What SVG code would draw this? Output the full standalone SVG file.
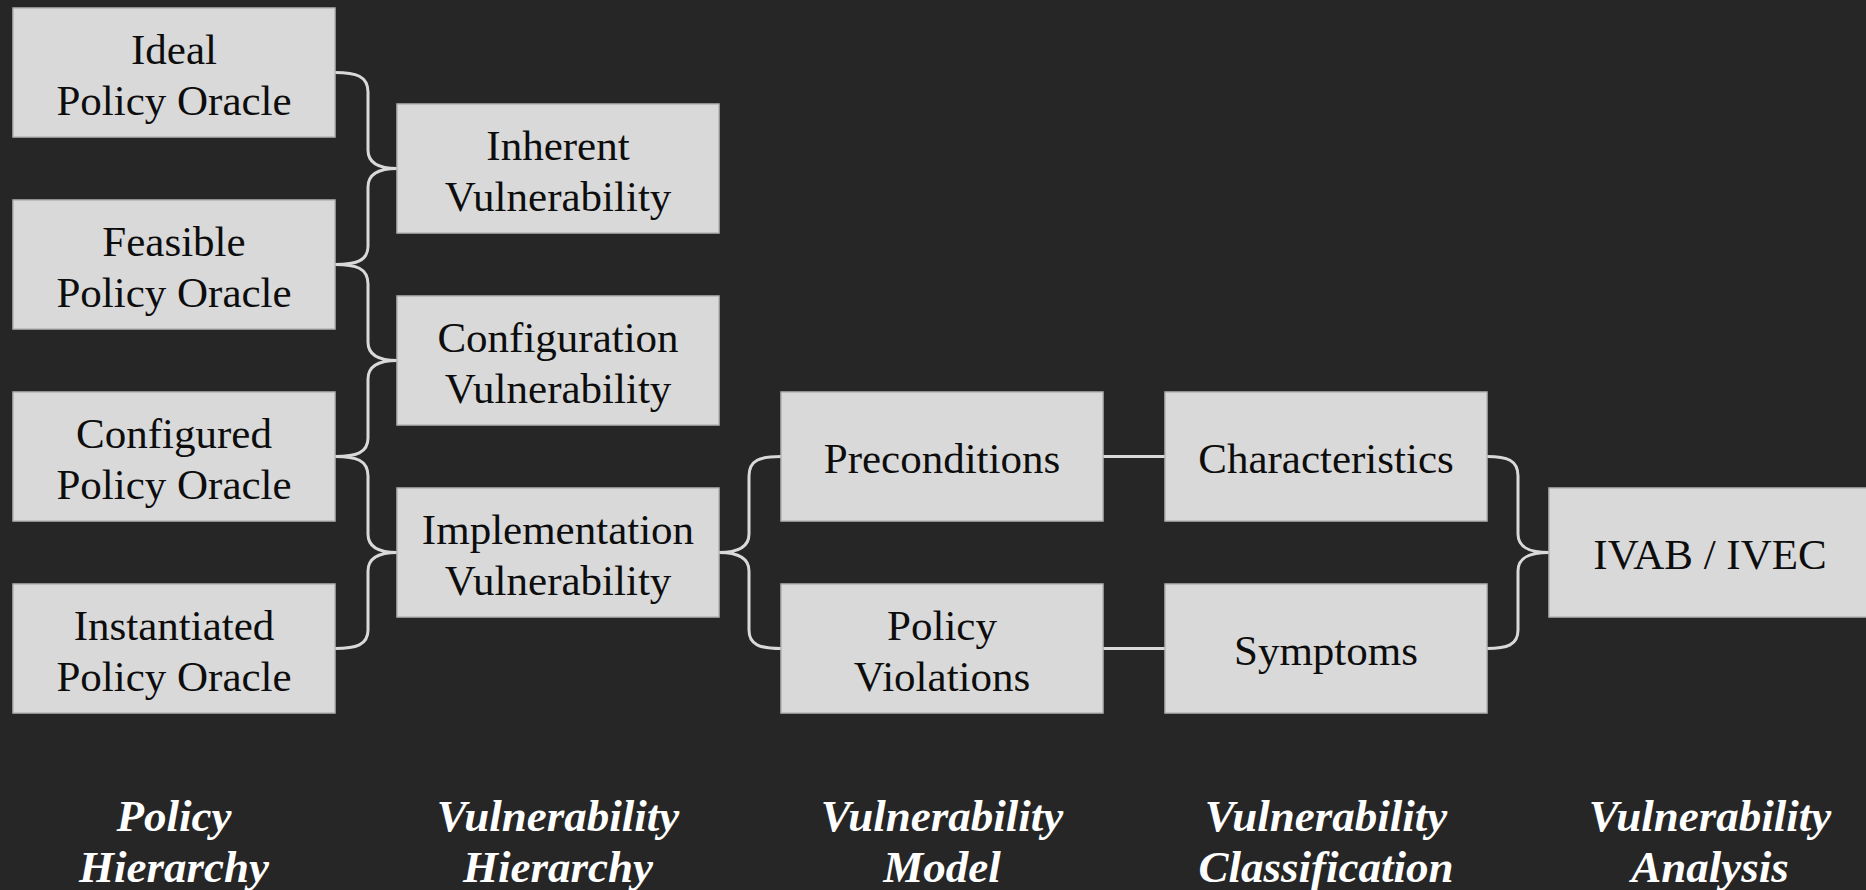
<svg xmlns="http://www.w3.org/2000/svg" width="1866" height="890" viewBox="0 0 1866 890">
<style>
.box{fill:#d9d9d9;stroke:#b4b4b4;stroke-width:1.5}
.t{font-family:"Liberation Serif","Times New Roman",serif;font-size:43px;fill:#0d0d0d;text-anchor:middle}
.lbl{font-family:"Liberation Serif","Times New Roman",serif;font-size:45px;font-weight:bold;font-style:italic;fill:#ffffff;text-anchor:middle}
.c{fill:none;stroke:#d9d9d9;stroke-width:3}
</style>
<rect width="1866" height="890" fill="#262626"/>
<g id="connectors">
<path class="c" d="M335,72.5 C356,72.5 368,76 368,92 L368,150 C368,164 380,168.5 397,168.5 C380,168.5 368,173 368,187 L368,246 C368,261 356,264.5 335,264.5"/>
<path class="c" d="M335,264.5 C356,264.5 368,268 368,284 L368,342 C368,356 380,360.5 397,360.5 C380,360.5 368,365 368,379 L368,438 C368,453 356,456.5 335,456.5"/>
<path class="c" d="M335,456.5 C356,456.5 368,460 368,476 L368,534 C368,548 380,552.5 397,552.5 C380,552.5 368,557 368,571 L368,630 C368,645 356,648.5 335,648.5"/>
<path class="c" d="M781,456.5 C760,456.5 749,460 749,476 L749,534 C749,548 737,552.5 719,552.5 C737,552.5 749,557 749,571 L749,630 C749,645 760,648.5 781,648.5"/>
<path class="c" d="M1103,456.5 L1165,456.5"/>
<path class="c" d="M1103,648.5 L1165,648.5"/>
<path class="c" d="M1487,456.5 C1507,456.5 1518,460 1518,476 L1518,534 C1518,548 1530,552.5 1549,552.5 C1530,552.5 1518,557 1518,571 L1518,630 C1518,645 1507,648.5 1487,648.5"/>
</g>
<g id="ideal"><rect class="box" x="13" y="8" width="322" height="129"/><text class="t" x="174" y="64">Ideal</text><text class="t" x="174" y="115">Policy Oracle</text></g>
<g id="feasible"><rect class="box" x="13" y="200" width="322" height="129"/><text class="t" x="174" y="256">Feasible</text><text class="t" x="174" y="307">Policy Oracle</text></g>
<g id="configured"><rect class="box" x="13" y="392" width="322" height="129"/><text class="t" x="174" y="448">Configured</text><text class="t" x="174" y="499">Policy Oracle</text></g>
<g id="instantiated"><rect class="box" x="13" y="584" width="322" height="129"/><text class="t" x="174" y="640">Instantiated</text><text class="t" x="174" y="691">Policy Oracle</text></g>
<g id="inherent"><rect class="box" x="397" y="104" width="322" height="129"/><text class="t" x="558" y="160">Inherent</text><text class="t" x="558" y="211">Vulnerability</text></g>
<g id="configuration"><rect class="box" x="397" y="296" width="322" height="129"/><text class="t" x="558" y="352">Configuration</text><text class="t" x="558" y="403">Vulnerability</text></g>
<g id="implementation"><rect class="box" x="397" y="488" width="322" height="129"/><text class="t" x="558" y="544">Implementation</text><text class="t" x="558" y="595">Vulnerability</text></g>
<g id="preconditions"><rect class="box" x="781" y="392" width="322" height="129"/><text class="t" x="942" y="472.5">Preconditions</text></g>
<g id="violations"><rect class="box" x="781" y="584" width="322" height="129"/><text class="t" x="942" y="640">Policy</text><text class="t" x="942" y="691">Violations</text></g>
<g id="characteristics"><rect class="box" x="1165" y="392" width="322" height="129"/><text class="t" x="1326" y="472.5">Characteristics</text></g>
<g id="symptoms"><rect class="box" x="1165" y="584" width="322" height="129"/><text class="t" x="1326" y="664.5">Symptoms</text></g>
<g id="ivab"><rect class="box" x="1549" y="488" width="330" height="129"/><text class="t" x="1710" y="568.5">IVAB / IVEC</text></g>
<g id="labels">
<text class="lbl" x="174" y="831">Policy</text><text class="lbl" x="174" y="882">Hierarchy</text>
<text class="lbl" x="558" y="831">Vulnerability</text><text class="lbl" x="558" y="882">Hierarchy</text>
<text class="lbl" x="942" y="831">Vulnerability</text><text class="lbl" x="942" y="882">Model</text>
<text class="lbl" x="1326" y="831">Vulnerability</text><text class="lbl" x="1326" y="882">Classification</text>
<text class="lbl" x="1710" y="831">Vulnerability</text><text class="lbl" x="1710" y="882">Analysis</text>
</g>
</svg>
